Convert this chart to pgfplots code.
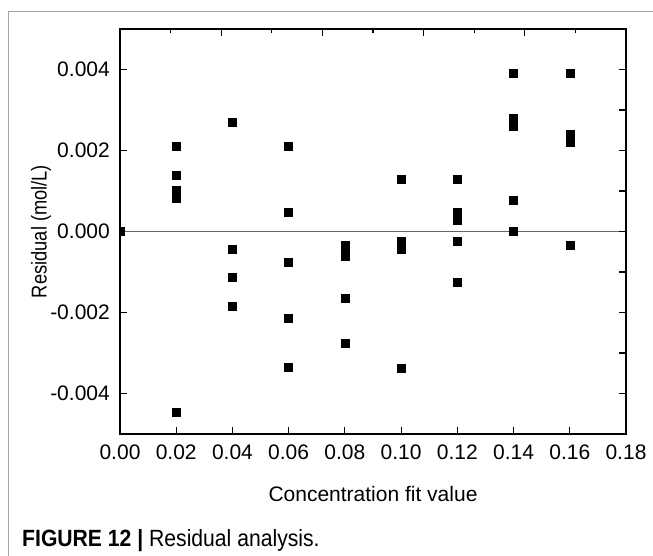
\documentclass[border=0pt]{standalone}
\usepackage{fontspec}
\setmainfont{Liberation Sans}
\newfontfamily\narrow[FakeStretch=0.85]{Liberation Sans}
\newfontfamily\capfont[FakeStretch=0.9]{Liberation Sans}
\usepackage{pgfplots}
\pgfplotsset{compat=1.18}
\begin{document}
\begin{tikzpicture}
\path[use as bounding box] (0,0) rectangle (653bp,-556bp);
\draw[gray!70, line width=1bp] (8bp,-556bp) -- (8bp,-11bp) -- (653bp,-11bp);
\begin{axis}[
  at={(120bp,-434bp)}, anchor=south west, scale only axis,
  width=506bp, height=405bp,
  xmin=0, xmax=0.18, ymin=-0.005, ymax=0.005,
  axis line style={line width=1.6bp},
  tick align=inside, major tick length=7bp,
  tick style={line width=1.2bp, black},
  xtick pos=left, ytick pos=left,
  xtick={0,0.02,0.04,0.06,0.08,0.10,0.12,0.14,0.16,0.18},
  xticklabels={0.00,0.02,0.04,0.06,0.08,0.10,0.12,0.14,0.16,0.18},
  ytick={-0.004,-0.002,0,0.002,0.004},
  yticklabels={-0.004,-0.002,0.000,0.002,0.004},
  scaled x ticks=false, scaled y ticks=false,
  tick label style={font=\fontsize{21bp}{24bp}\selectfont, inner sep=0pt},
  xticklabel style={anchor=north, yshift=-11bp},
  yticklabel style={anchor=east, xshift=-10bp},
  xlabel={Concentration fit value},
  xlabel style={at={(axis description cs:0.5,0)}, anchor=center, yshift=-60bp,
    font=\fontsize{21bp}{24bp}\selectfont},
  ylabel={Residual (mol/L)},
  ylabel style={at={(axis description cs:-0.156,0.5)}, anchor=center, rotate=0,
    font=\narrow\fontsize{21.5bp}{24bp}\selectfont},
  clip marker paths=true,
]
\addplot[gray!80!black, line width=1bp] coordinates {(0,0) (0.18,0)};
\addplot[only marks, mark=square*, mark size=4bp, black] table {
x y
0 0
0.02 0.0021
0.02 0.0014
0.02 0.00102
0.02 0.00092
0.02 0.00082
0.02 -0.00445
0.04 0.0027
0.04 -0.00044
0.04 -0.00114
0.04 -0.00185
0.06 0.0021
0.06 0.00048
0.06 -0.00075
0.06 -0.00215
0.06 -0.00335
0.08 -0.00035
0.08 -0.00048
0.08 -0.00062
0.08 -0.00165
0.08 -0.00277
0.10 0.0013
0.10 -0.00024
0.10 -0.00033
0.10 -0.00043
0.10 -0.00337
0.12 0.0013
0.12 0.00048
0.12 0.00038
0.12 0.00028
0.12 -0.00023
0.12 -0.00125
0.14 0.0039
0.14 0.0028
0.14 0.0027
0.14 0.0026
0.14 0.00078
0.14 0
0.16 0.0039
0.16 0.0024
0.16 0.0023
0.16 0.0022
0.16 -0.00033
};
\end{axis}
\begin{axis}[
  at={(120bp,-434bp)}, anchor=south west, scale only axis,
  width=506bp, height=405bp,
  xmin=0, xmax=0.18, ymin=-0.005, ymax=0.005,
  axis line style={line width=1.6bp},
  tick align=inside, major tick length=7bp, minor tick length=4bp,
  tick style={line width=1.2bp, black},
  xtick pos=right, ytick pos=right,
  xtick={0.036,0.072,0.108,0.144},
  minor xtick={0.018,0.054,0.09,0.126,0.162},
  ytick={-0.004,-0.003,-0.002,-0.001,0,0.001,0.002,0.003,0.004},
  xticklabels={}, yticklabels={},
  scaled x ticks=false, scaled y ticks=false,
]
\end{axis}
\node[anchor=base west, inner sep=0pt] at (22bp,-546bp)
  {\capfont\fontsize{23.5bp}{27bp}\selectfont\textbf{FIGURE 12 |} Residual analysis.};
\end{tikzpicture}
\end{document}
